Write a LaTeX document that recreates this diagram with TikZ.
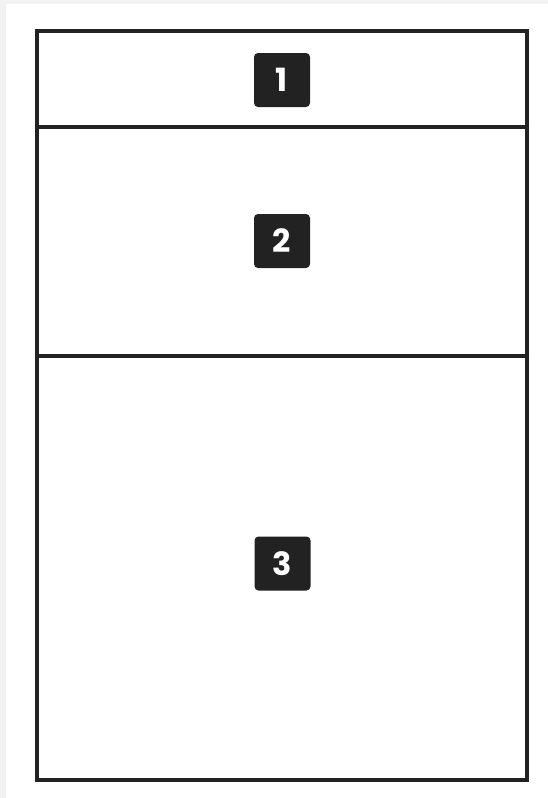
\documentclass[tikz,border=0pt]{standalone}
\usepackage{fontspec}
\newfontfamily\badgefont{Poppins}
\definecolor{frame}{HTML}{222222}
\definecolor{backgr}{HTML}{F2F2F2}
\tikzset{badge/.style={fill=frame,text=white,rounded corners=4pt,minimum width=56pt,minimum height=54pt,inner sep=0pt,font=\badgefont\bfseries\fontsize{32}{32}\selectfont}}
\begin{document}
\begin{tikzpicture}[x=1pt,y=-1pt,line join=round,line cap=round]
    \def\l{37}
    \def\r{527}
    \fill[backgr] (0,0) rectangle (548,798);
    \fill[white] (6,4) rectangle (548,798);
    \useasboundingbox (0,0) rectangle (548,798);
    \coordinate (A) at (\l,31);
    \coordinate (B) at (\r,780);
    \coordinate (P) at (\l,126.5);
    \coordinate (Q) at (\l,356);
    \draw[frame,line width=4pt,line cap=butt,line join=miter] (A) rectangle (B);
    \draw[frame,line width=4pt] (P) -- (\r,126.5);
    \draw[frame,line width=4pt] (Q) -- (\r,356);
    \node[badge] (one) at (282,80) {1};
    \node[badge] (two) at (282,241) {2};
    \node[badge] (three) at (282.5,563.5) {3};
\end{tikzpicture}
\end{document}
